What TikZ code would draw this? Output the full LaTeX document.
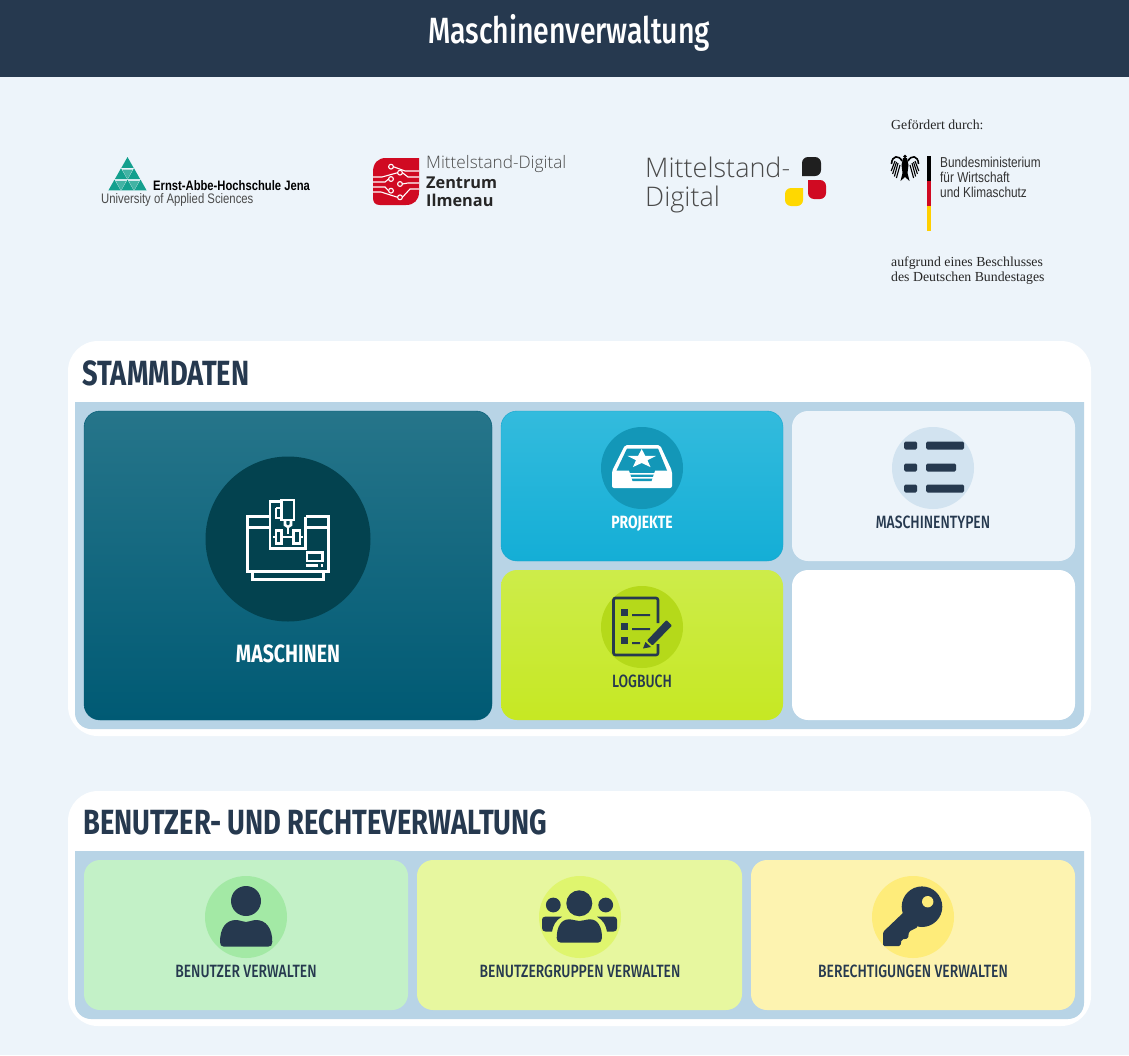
\documentclass[tikz,border=0pt]{standalone}
\usepackage{fontspec}
\setmainfont{Liberation Sans}
\newfontfamily\headfont[FakeStretch=0.78]{Fira Sans}
\newfontfamily\medfont[FakeStretch=0.78]{Fira Sans Medium}
\newfontfamily\narrowfont[FakeStretch=0.82]{Liberation Sans}
\newfontfamily\logofont{Open Sans}
\newfontfamily\lightfont{Open Sans Light}
\newfontfamily\serifont{Liberation Serif}
\newcommand{\fs}[1]{\fontsize{#1}{#1}\selectfont}
\definecolor{navy}{HTML}{26394F}
\definecolor{pagebg}{HTML}{EDF4FA}
\definecolor{band}{HTML}{B8D4E6}
\definecolor{eahteal}{HTML}{14A08E}
\definecolor{logored}{HTML}{D00A22}
\definecolor{logogray}{HTML}{4A4A4A}
\definecolor{flagyellow}{HTML}{FFD800}
\definecolor{maschtop}{HTML}{26758A}
\definecolor{maschbot}{HTML}{005A74}
\definecolor{maschdisc}{HTML}{03424F}
\definecolor{projtop}{HTML}{33BBDD}
\definecolor{projbot}{HTML}{14AED6}
\definecolor{projline}{HTML}{18A5CD}
\definecolor{projdisc}{HTML}{1397B8}
\definecolor{typdisc}{HTML}{D2E3F0}
\definecolor{logtop}{HTML}{CDEC4A}
\definecolor{logbot}{HTML}{C6E823}
\definecolor{logdisc}{HTML}{B5D91A}
\definecolor{bentile}{HTML}{C3F1C7}
\definecolor{bendisc}{HTML}{A3E9A5}
\definecolor{grptile}{HTML}{E7F79F}
\definecolor{grpdisc}{HTML}{DFF56E}
\definecolor{rechttile}{HTML}{FDF3B0}
\definecolor{rechtdisc}{HTML}{FEEC7A}
\tikzset{
  tile/.style={rounded corners=16pt},
  sectitle/.style={anchor=west,text=navy,font=\headfont\bfseries\fs{35},text height=24pt,text depth=0pt},
  tiletext/.style={text=navy,font=\medfont\fs{17.8},text height=12.5pt,text depth=0pt},
  whiteline/.style={draw=white,line width=2.6pt},
  logotext/.style={anchor=west,inner sep=0pt},
}
\begin{document}
\begin{tikzpicture}[x=1pt,y=-1pt]
\useasboundingbox (0,0) rectangle (1129,1055);
\fill[pagebg] (0,0) rectangle (1129,1055);
\fill[navy] (0,0) rectangle (1129,77);
\node[text=white,font=\medfont\fs{36.5}] (title) at (569,33) {Maschinenverwaltung};

% logo EAH
\foreach \px/\py in {127.5/157,121/168.3,134/168.3,114.5/179.6,127.5/179.6,140.5/179.6}
  \fill[eahteal] (\px,\py) -- (\px+6.1,\py+10.8) -- (\px-6.1,\py+10.8) -- cycle;
\foreach \px/\py in {127.5/179.2,121/190.5,134/190.5}
  \fill[eahteal!80!white] (\px,\py) -- (\px+5.2,\py-9.6) -- (\px-5.2,\py-9.6) -- cycle;
\node[logotext,text=black,font=\narrowfont\bfseries\fs{13.7}] (eahname) at (153,186) {Ernst-Abbe-Hochschule Jena};
\node[logotext,text=logogray,font=\narrowfont\fs{13.8}] (eahsub) at (101,200) {University of Applied Sciences};

% logo Zentrum
\fill[logored] (419,158) -- (419,192) .. controls (419,200) and (414,205) .. (406,205)
  -- (380,205) .. controls (375,205) and (373,202) .. (373,198) -- (373,172)
  .. controls (373,163) and (378,158) .. (386,158) -- cycle;
\foreach \lx/\ly/\mx/\my/\rx/\ry in {419/171/405/171/393.4/166.7,419/177/408/177/402.4/172.7,373/177/382/177/397.6/172.7,373/182/385/182/388.6/179,419/183/408/183/402.4/184,373/187/385/187/388.6/190.7,373/192/381/192/397.6/197.3,419/189/410/189/402.4/197.3}
  \draw[white,line width=1.1pt] (\lx,\ly) -- (\mx,\my) -- (\rx,\ry);
\foreach \cx/\cy in {391/166.7,400/172.7,391/179,400/184,391/190.7,400/197.3}
  \filldraw[draw=white,fill=logored,line width=1.1pt] (\cx,\cy) circle (2.4pt);
\node[logotext,text=logogray,font=\lightfont\fs{17.2}] (zmittel) at (426,164.5) {Mittelstand-Digital};
\node[logotext,text=black!85,font=\logofont\bfseries\fs{16.3}] (zname) at (426,182.5) {Zentrum};
\node[logotext,text=black!85,font=\logofont\bfseries\fs{16.3}] (zort) at (426,200) {Ilmenau};

% logo Mittelstand
\node[logotext,text=logogray,font=\lightfont\fs{27}] (mittel) at (645,167) {Mittelstand-};
\node[logotext,text=logogray,font=\lightfont\fs{27}] (digital) at (645,199) {Digital};
\fill[black!88,rounded corners=6pt] (802,176) -- (802,157) -- (821,157) -- (821,176) -- (802,176);
\fill[logored,rounded corners=6pt] (808,180) -- (826,180) -- (826,199) -- (808,199) -- (808,180);
\fill[flagyellow,rounded corners=6pt] (803,188) -- (803,206) -- (785,206) -- (785,188) -- (803,188);

% logo BMWK
\node[logotext,text=black!85,font=\serifont\fs{13.8}] (foerder) at (891,124.5) {Gefördert durch:};
\fill[black] (905,156.5) circle (1.8pt);
\fill[black] (903,158) -- (907,158) -- (908.5,165) -- (907.5,173) -- (909.5,181) -- (905,177) -- (900.5,181) -- (902.5,173) -- (901.5,165) -- cycle;
\foreach \sgn in {-1,1} {
  \draw[black,line width=1.6pt] (905+\sgn*3,161) .. controls (905+\sgn*6,155) and (905+\sgn*13,155) .. (905+\sgn*13.5,164);
  \foreach \wx/\wy/\sx/\sy in {13.8/171/10/161,12.4/174/8.5/162,10.6/176.5/7/163,8.6/178/5/165}
    \draw[black,line width=1.1pt] (905+\sgn*\sx,\sy) -- (905+\sgn*\wx,\wy);
}
\fill[black] (927,156) rectangle (931,181);
\fill[logored] (927,181) rectangle (931,206);
\fill[flagyellow!90!orange] (927,206) rectangle (931,231);
\node[logotext,text=black!80,font=\narrowfont\fs{14.4}] (bund) at (940,162) {Bundesministerium};
\node[logotext,text=black!80,font=\narrowfont\fs{14.4}] (wirt) at (940,177) {für Wirtschaft};
\node[logotext,text=black!80,font=\narrowfont\fs{14.4}] (klima) at (940,192) {und Klimaschutz};
\node[logotext,text=black!85,font=\serifont\fs{13.8}] (beschl) at (891,263) {aufgrund eines Beschlusses};
\node[logotext,text=black!85,font=\serifont\fs{13.8}] (tages) at (891,278) {des Deutschen Bundestages};

% Stammdaten
\fill[white,rounded corners=30pt] (68,341) rectangle (1091,736);
\fill[band] (75,402) -- (1084,402) [rounded corners=16pt] -- (1084,729) -- (75,729) [sharp corners] -- cycle;
\node[sectitle] (stamm) at (79,373) {STAMMDATEN};
\fill[tile,white] (792,570) rectangle (1075,720);
\fill[tile,pagebg] (792,411) rectangle (1075,561);
\path[tile,draw=maschbot,top color=maschtop,bottom color=maschbot] (84,411) rectangle (492,720);
\path[tile,draw=projline,top color=projtop,bottom color=projbot] (501,411) rectangle (783,561);
\path[tile,top color=logtop,bottom color=logbot] (501,570) rectangle (783,720);
\fill[maschdisc] (288,539) circle (82.5pt);
\fill[projdisc] (642,468) circle (41pt);
\fill[typdisc] (933,468) circle (41pt);
\fill[logdisc] (642,627) circle (41pt);
\node[tiletext,text=white,font=\headfont\bfseries\fs{25},text height=17.5pt] (maschinen) at (288,654) {MASCHINEN};
\node[tiletext,text=white,font=\headfont\bfseries\fs{17.8}] (projekte) at (642,522) {PROJEKTE};
\node[tiletext] (typen) at (933,522) {MASCHINENTYPEN};
\node[tiletext] (logbuch) at (642,681) {LOGBUCH};

% icon machine
\draw[whiteline] (270,516.7) -- (247.3,516.7) -- (247.3,571.7) -- (328.3,571.7) -- (328.3,516.7) -- (305.7,516.7);
\draw[whiteline] (247.3,527.3) -- (270,527.3) (305.7,527.3) -- (328.3,527.3);
\draw[whiteline] (252.7,571.7) -- (252.7,579.3) -- (323.3,579.3) -- (323.3,571.7);
\draw[whiteline] (281.7,501.7) -- (270,501.7) -- (270,548.3) -- (305.7,548.3) -- (305.7,517);
\draw[whiteline] (281.7,500) rectangle (294,520);
\draw[whiteline] (276,508) -- (281.7,508) (276,508) -- (276,518) -- (281.7,518);
\draw[whiteline] (285,520) -- (285,525) -- (288,527) -- (291,525) -- (291,520);
\draw[white,line width=1.5pt] (288,527) -- (288,534);
\draw[whiteline] (276,530.7) rectangle (281.7,543.3) (293.3,530.7) rectangle (300,543.3);
\draw[whiteline] (273,537) -- (276,537) (281.7,537) -- (293.3,537) (300,537) -- (303,537);
\draw[whiteline] (307,552.5) rectangle (322.5,561);
\draw[whiteline] (305.7,565.3) -- (318,565.3) (320.7,565.3) -- (323.3,565.3);

% icon tray
\fill[white,rounded corners=2pt] (625,445) -- (660,445) -- (672,471) -- (672,488) -- (612,488) -- (612,471) -- cycle;
\fill[projdisc] (627,448.5) -- (658,448.5) -- (667,470.5) -- (655,470.5) -- (651.5,481) -- (632.5,481) -- (629,470.5) -- (616.5,470.5) -- cycle;
\fill[white] (628,473) rectangle (656,474.6) (630.5,477) rectangle (653.5,478.5);
\fill[white] (641.7,449)
  \foreach \ang in {1,...,4} { -- ({641.7+6*sin(\ang*72-36)},{459-4*cos(\ang*72-36)}) -- ({641.7+15*sin(\ang*72)},{459-10*cos(\ang*72)}) }
  -- ({641.7+6*sin(324)},{459-4*cos(324)}) -- cycle;

% icon list
\foreach \ly/\lw in {445.5/38,467.5/30,488.5/38} {
  \fill[navy,rounded corners=1.5pt] (904,\ly-4) rectangle (917,\ly+4);
  \fill[navy,rounded corners=1.5pt] (926,\ly-4) rectangle (926+\lw,\ly+4);
}

% icon logbook
\draw[navy,line width=2.6pt,rounded corners=2pt] (658,623) -- (658,598) -- (613.5,598) -- (613.5,655) -- (658,655) -- (658,644);
\foreach \ly in {612,626,640}
  \fill[navy] (620.5,\ly-3.5) rectangle (628,\ly+3.5);
\fill[navy] (632,614) rectangle (650,616) (632,628) rectangle (650,630) (632,642.2) rectangle (640,644.2);
\fill[navy,rounded corners=1pt] (647,640.5) -- (666.5,620) -- (672,625.5) -- (652.5,645.5) -- cycle;
\fill[navy] (645.5,642) -- (651,647) -- (643,648.5) -- cycle;

% Benutzer
\fill[white,rounded corners=30pt] (68,791) rectangle (1091,1026);
\fill[band] (75,851) -- (1084,851) [rounded corners=16pt] -- (1084,1019) -- (75,1019) [sharp corners] -- cycle;
\node[sectitle] (benutzer) at (80,822) {BENUTZER- UND RECHTEVERWALTUNG};
\fill[tile,bentile] (84,860) rectangle (408,1010);
\fill[tile,grptile] (417,860) rectangle (742,1010);
\fill[tile,rechttile] (751,860) rectangle (1075,1010);
\fill[bendisc] (246,917) circle (41pt);
\fill[grpdisc] (580,917) circle (41pt);
\fill[rechtdisc] (913,917) circle (41pt);
\node[tiletext] (bverw) at (246,971) {BENUTZER VERWALTEN};
\node[tiletext] (gverw) at (580,971) {BENUTZERGRUPPEN VERWALTEN};
\node[tiletext] (rverw) at (913,971) {BERECHTIGUNGEN VERWALTEN};

% icon person
\fill[navy] (246,901) circle (15pt);
\fill[navy] (220,942) .. controls (220,928) and (226,920) .. (236,920) .. controls (240,920) and (243,922) .. (246,922) .. controls (249,922) and (252,920) .. (256,920) .. controls (266,920) and (272.3,928) .. (272.3,942) .. controls (272.3,945) and (271,946.7) .. (268,946.7) -- (224,946.7) .. controls (221,946.7) and (220,945) .. (220,942) -- cycle;

% icon group
\fill[navy] (579.3,903.3) circle (13pt) (553.3,905) circle (7.4pt) (605.7,905) circle (7.4pt);
\fill[navy] (556.7,938) .. controls (556.7,927) and (561,919.3) .. (569,919.3) .. controls (573,919.3) and (576,921) .. (579.3,921) .. controls (583,921) and (586,919.3) .. (590,919.3) .. controls (598,919.3) and (602,927) .. (602,938) .. controls (602,941) and (600,942.7) .. (598,942.7) -- (561,942.7) .. controls (558,942.7) and (556.7,941) .. (556.7,938) -- cycle;
\fill[navy] (545,916.7) -- (562,916.7) .. controls (556,920) and (553,925) .. (552,931.7) -- (546,931.7) .. controls (543,931.7) and (542,930) .. (542,928) -- (542,920) .. controls (542,918) and (543,916.7) .. (545,916.7) -- cycle;
\fill[navy] (614,916.7) -- (597,916.7) .. controls (603,920) and (606,925) .. (607,931.7) -- (613,931.7) .. controls (616,931.7) and (617,930) .. (617,928) -- (617,920) .. controls (617,918) and (616,916.7) .. (614,916.7) -- cycle;

% icon key
\fill[navy] (922,906.7) circle (20.3pt);
\fill[navy,rounded corners=1.5pt] (905,911) -- (883,932) -- (883,946) -- (900.5,946) -- (901.5,939.5) -- (908,938.5) -- (909,931.5) -- (918,927) -- cycle;
\fill[rechtdisc] (927.7,901.7) circle (5.7pt);
\end{tikzpicture}
\end{document}
